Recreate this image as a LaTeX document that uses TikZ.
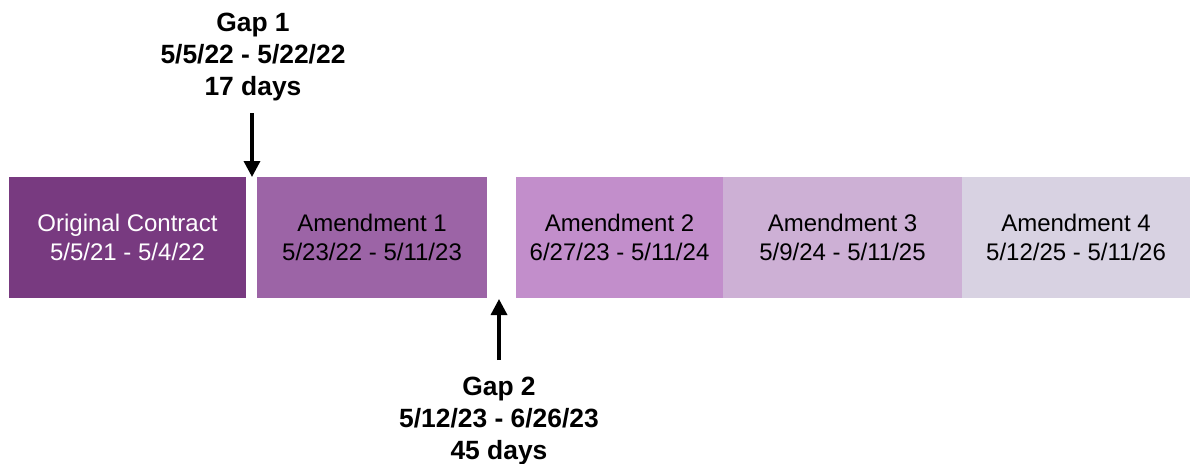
\documentclass[tikz,border=0pt]{standalone}
\usepackage{fontspec}
\setmainfont{Liberation Sans}
\usetikzlibrary{arrows.meta}
\definecolor{cA}{HTML}{783A80}
\definecolor{cB}{HTML}{9C64A6}
\definecolor{cC}{HTML}{C28ECB}
\definecolor{cD}{HTML}{CDB0D5}
\definecolor{cE}{HTML}{D8D2E2}
\tikzset{
  box/.style={draw=none, inner sep=0pt, minimum height=121pt, align=center,
    font=\fontsize{24}{28.5}\selectfont, text=black},
  gaplabel/.style={inner sep=0pt, align=center, font=\fontsize{26.4}{31.8}\selectfont\bfseries},
  gaparrow/.style={line width=3.4pt, -{Triangle[width=16pt,length=16pt]}}
}
\begin{document}
\begin{tikzpicture}[x=1pt,y=-1pt]
\useasboundingbox (0,0) rectangle (1190,463);
\node[box, fill=cA, text=white, minimum width=237pt] (oc) at (127.5,237.5) {Original Contract\\5/5/21 - 5/4/22};
\node[box, fill=cB, minimum width=230pt] (a1) at (372,237.5) {Amendment 1\\5/23/22 - 5/11/23};
\node[box, fill=cC, minimum width=207.5pt] (a2) at (619.5,237.5) {Amendment 2\\6/27/23 - 5/11/24};
\node[box, fill=cD, minimum width=239.5pt] (a3) at (842.5,237.5) {Amendment 3\\5/9/24 - 5/11/25};
\node[box, fill=cE, minimum width=228pt] (a4) at (1076,237.5) {Amendment 4\\5/12/25 - 5/11/26};
\node[gaplabel] (g1) at (253,57) {Gap 1\\5/5/22 - 5/22/22\\17 days};
\node[gaplabel] (g2) at (499,421) {Gap 2\\5/12/23 - 6/26/23\\45 days};
\coordinate (g1s) at (252,113);
\coordinate (g1e) at (252,177);
\coordinate (g2s) at (499,360);
\coordinate (g2e) at (499,299);
\draw[gaparrow] (g1s) -- (g1e);
\draw[gaparrow] (g2s) -- (g2e);
\end{tikzpicture}
\end{document}
